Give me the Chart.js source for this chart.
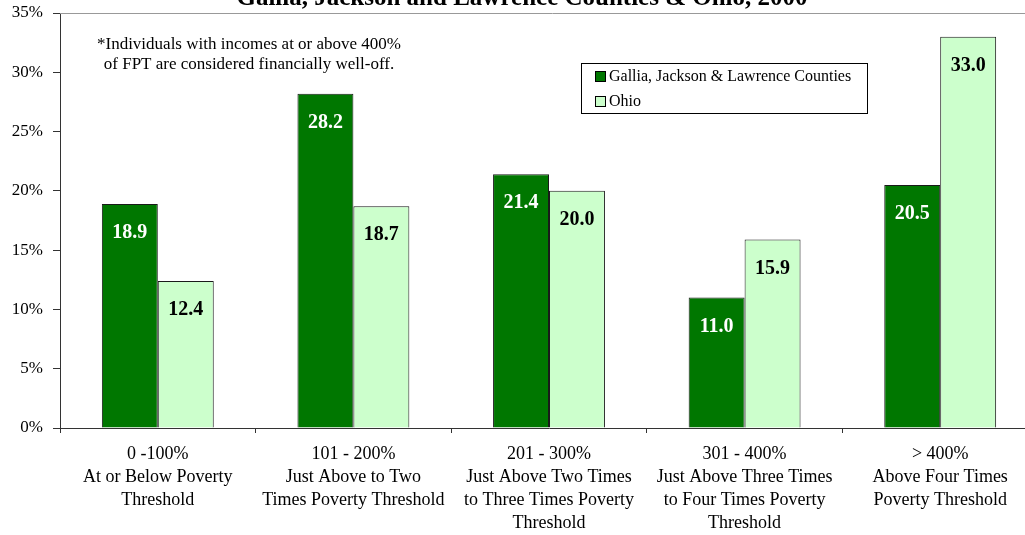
<!DOCTYPE html>
<html>
<head>
<meta charset="utf-8">
<script src="https://cdn.jsdelivr.net/npm/chart.js@4.4.0/dist/chart.umd.min.js"></script>
<style>
  html, body { margin: 0; padding: 0; background: #fff; overflow: hidden; }
  #wrap { position: relative; width: 1025px; height: 535px; overflow: hidden; }
  #box { position: absolute; left: 0; top: -22px; width: 1045px; height: 557px; }
</style>
</head>
<body>
<div id="wrap"><div id="box"><canvas id="povertyChart" width="1045" height="557"></canvas></div></div>
<script>
const FONT = '"Liberation Serif", "Times New Roman", Times, serif';

const categorias = [
    ['0 -100%', 'At or Below Poverty', 'Threshold'],
    ['101 - 200%', 'Just Above to Two', 'Times Poverty Threshold'],
    ['201 - 300%', 'Just Above Two Times', 'to Three Times Poverty', 'Threshold'],
    ['301 - 400%', 'Just Above Three Times', 'to Four Times Poverty', 'Threshold'],
    ['> 400%', 'Above Four Times', 'Poverty Threshold']
];
const condados = [18.9, 28.2, 21.4, 11.0, 20.5];
const ohio = [12.4, 18.7, 20.0, 15.9, 33.0];
const yTicks = [0, 5, 10, 15, 20, 25, 30, 35];

const titulo = 'Gallia, Jackson and Lawrence Counties & Ohio, 2000';
const nota = ['*Individuals with incomes at or above 400%', 'of FPT are considered financially well-off.'];

// rótulos de valor dentro das barras, título, nota e legenda em caixa
const extras = {
    id: 'extras',
    afterDatasetsDraw(chart) {
        const ctx = chart.ctx;
        ctx.save();
        ctx.font = 'bold 20px ' + FONT;
        ctx.textAlign = 'center';
        ctx.textBaseline = 'middle';
        chart.data.datasets.forEach((ds, i) => {
            chart.getDatasetMeta(i).data.forEach((bar, j) => {
                ctx.fillStyle = i === 0 ? '#ffffff' : '#000000';
                ctx.fillText(ds.data[j].toFixed(1), bar.x, bar.y + 29);
            });
        });
        ctx.restore();
    },
    afterDraw(chart) {
        const ctx = chart.ctx;
        const area = chart.chartArea;
        ctx.save();

        // linha superior da área do gráfico
        ctx.strokeStyle = '#999999';
        ctx.lineWidth = 1;
        ctx.beginPath();
        ctx.moveTo(area.left, area.top + 0.5);
        ctx.lineTo(chart.width, area.top + 0.5);
        ctx.stroke();

        // título (parte de cima fica fora da área visível)
        ctx.fillStyle = '#000';
        ctx.font = 'bold 25px ' + FONT;
        ctx.textAlign = 'center';
        ctx.textBaseline = 'alphabetic';
        ctx.fillText(titulo, 522, 27);

        // nota
        ctx.font = '17px ' + FONT;
        ctx.textBaseline = 'middle';
        ctx.fillText(nota[0], 249, 67);
        ctx.fillText(nota[1], 249, 87);

        // legenda
        const lx = 581, ly = 85, lw = 286, lh = 50;
        ctx.fillStyle = '#fff';
        ctx.fillRect(lx, ly, lw, lh);
        ctx.strokeStyle = '#000';
        ctx.strokeRect(lx + 0.5, ly + 0.5, lw, lh);
        ctx.font = '16px ' + FONT;
        ctx.textAlign = 'left';
        chart.data.datasets.forEach((ds, i) => {
            const cy = ly + 13 + i * 25;
            ctx.fillStyle = ds.backgroundColor;
            ctx.fillRect(595, cy - 5, 11, 11);
            ctx.strokeStyle = '#000';
            ctx.strokeRect(595.5, cy - 4.5, 10, 10);
            ctx.fillStyle = '#000';
            ctx.fillText(ds.label, 609, cy + 1);
        });
        ctx.restore();
    }
};

const ctx = document.getElementById('povertyChart').getContext('2d');

new Chart(ctx, {
    type: 'bar',
    data: {
        labels: categorias,
        datasets: [{
            label: 'Gallia, Jackson & Lawrence Counties',
            data: condados,
            backgroundColor: '#007700',
            borderColor: '#1a1a1a',
            borderWidth: 1,
            categoryPercentage: 0.572,
            barPercentage: 1
        }, {
            label: 'Ohio',
            data: ohio,
            backgroundColor: '#CCFFCC',
            borderColor: '#1a1a1a',
            borderWidth: 1,
            categoryPercentage: 0.572,
            barPercentage: 1
        }]
    },
    options: {
        responsive: false,
        animation: false,
        devicePixelRatio: 1,
        layout: { padding: { top: 35, right: 7, left: 0, bottom: 0 } },
        plugins: {
            legend: { display: false },
            title: { display: false },
            tooltip: { enabled: false }
        },
        scales: {
            x: {
                offset: true,
                grid: {
                    offset: true,
                    drawOnChartArea: false,
                    tickLength: 5,
                    color: '#333'
                },
                border: { color: '#333', width: 1 },
                ticks: {
                    color: '#000',
                    padding: 10,
                    font: { family: FONT, size: 18, lineHeight: 1.27 },
                    maxRotation: 0,
                    autoSkip: false
                },
                afterFit(scale) { scale.height = 107; }
            },
            y: {
                min: 0,
                max: 35,
                afterBuildTicks(scale) { scale.ticks = yTicks.map(v => ({ value: v })); },
                grid: {
                    drawOnChartArea: false,
                    tickLength: 7,
                    color: '#333'
                },
                border: { color: '#333', width: 1 },
                ticks: {
                    color: '#000',
                    padding: 10,
                    font: { family: FONT, size: 17 },
                    callback: v => v + '%'
                },
                afterFit(scale) { scale.width = 60; }
            }
        }
    },
    plugins: [extras]
});
</script>
</body>
</html>
